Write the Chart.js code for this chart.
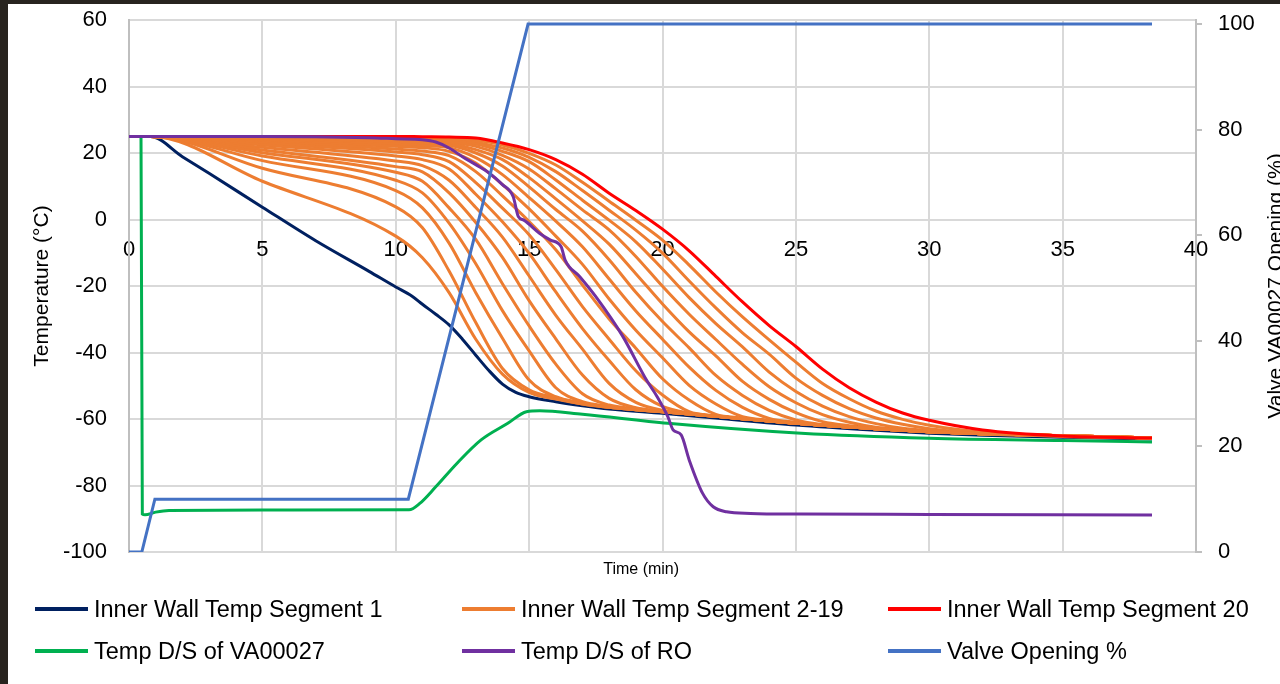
<!DOCTYPE html>
<html>
<head>
<meta charset="utf-8">
<script src="https://cdn.jsdelivr.net/npm/chart.js@4.4.1/dist/chart.umd.min.js"></script>
<style>
  html, body { margin: 0; padding: 0; background: #fff; overflow: hidden; }
  #wrap { position: relative; width: 1280px; height: 684px; overflow: hidden; background: #fff; }
  #box { position: absolute; left: 0; top: 0; width: 1292px; height: 684px; }
  .frame { position: absolute; background: #28241f; }
  #legend { position: absolute; left: 0; top: 0; font-family: 'Liberation Sans', Arial, sans-serif; font-size: 23.5px; color: #000; }
  .item { position: absolute; display: flex; align-items: center; white-space: nowrap; height: 30px; }
  .swatch { width: 53px; height: 4px; margin-right: 6px; }
</style>
</head>
<body>
<div id="wrap">
  <div id="box"><canvas id="chart" width="1292" height="684"></canvas></div>
  <div id="legend"></div>
  <div class="frame" style="left:0;top:0;width:8px;height:684px"></div>
  <div class="frame" style="left:0;top:0;width:1280px;height:4px"></div>
</div>
<script>
// time axis (min) shared by the wall segments 2-20
const orangeTime = [0, 0.8, 5, 10, 11, 12, 13, 14, 15, 16, 17, 18, 19, 20, 21, 22, 23, 24, 25, 26, 27, 28, 29, 30, 32, 35, 38.35];

const seg2  = [25, 25, 11.5, -5, -11.5, -22, -36, -46.5, -52.0, -54.0, -55.5, -56.5, -57.2, -57.8, -58.5, -59.2, -59.9, -60.6, -61.3, -61.9, -62.4, -62.9, -63.4, -63.8, -64.4, -65.0, -65.7];
const seg3  = [25, 25, 15.4, 3.8, -2.5, -15.5, -31, -44.8, -51.2, -53.6, -55.5, -56.5, -57.2, -57.8, -58.5, -59.2, -59.9, -60.6, -61.3, -61.9, -62.4, -62.9, -63.4, -63.8, -64.4, -65.0, -65.7];
const seg4  = [25, 25, 17.7, 8.7, 3.5, -7.1, -22, -35.7, -48.3, -53.3, -55.2, -56.5, -57.2, -57.8, -58.5, -59.2, -59.9, -60.6, -61.3, -61.9, -62.4, -62.9, -63.4, -63.8, -64.4, -65.0, -65.7];
const seg5  = [25, 25, 19.1, 11.8, 8, -1.1, -13.3, -27.4, -39.5, -50.6, -54.8, -56.2, -57.2, -57.8, -58.5, -59.2, -59.9, -60.6, -61.3, -61.9, -62.4, -62.9, -63.4, -63.8, -64.4, -65.0, -65.7];
const seg6  = [25, 25, 20.1, 14.2, 11.5, 3.5, -6, -19.3, -32, -43.5, -52.4, -55.8, -56.9, -57.8, -58.5, -59.2, -59.9, -60.6, -61.3, -61.9, -62.4, -62.9, -63.4, -63.8, -64.4, -65.0, -65.7];
const seg7  = [25, 25, 20.9, 15.9, 14.3, 8, -0.9, -11.4, -24.4, -35.9, -46.8, -53.8, -56.6, -57.6, -58.5, -59.2, -59.9, -60.6, -61.3, -61.9, -62.4, -62.9, -63.4, -63.8, -64.4, -65.0, -65.7];
const seg8  = [25, 25, 21.7, 17.6, 16.2, 11.8, 3.6, -5.3, -17, -28.8, -39, -49.3, -55, -57.4, -58.3, -59.2, -59.9, -60.6, -61.3, -61.9, -62.4, -62.9, -63.4, -63.8, -64.4, -65.0, -65.7];
const seg9  = [25, 25, 22.4, 19.1, 18, 15.2, 7.6, -0.7, -10.2, -21.8, -32.8, -42.4, -51.2, -56.2, -58.2, -59.1, -59.9, -60.6, -61.3, -61.9, -62.4, -62.9, -63.4, -63.8, -64.4, -65.0, -65.7];
const seg10 = [25, 25, 22.9, 20.3, 19.5, 17.4, 11.1, 3.4, -4.6, -15.1, -26.2, -36, -45.5, -52.8, -57.8, -59.1, -59.9, -60.6, -61.3, -61.9, -62.4, -62.9, -63.4, -63.8, -64.4, -65.0, -65.7];
const seg11 = [25, 25, 23.3, 21.2, 20.6, 19.2, 14.4, 7.1, -0.6, -9.1, -19.7, -29.9, -38.7, -47.9, -54.3, -58.6, -59.7, -60.6, -61.3, -61.9, -62.4, -62.9, -63.4, -63.8, -64.4, -65.0, -65.7];
const seg12 = [25, 25, 23.6, 22, 21.6, 20.5, 17, 10.5, 3.2, -5, -13.5, -23.9, -33.3, -41.6, -49.9, -55.5, -59.3, -60.4, -61.3, -61.9, -62.4, -62.9, -63.4, -63.8, -64.4, -65.0, -65.7];
const seg13 = [25, 25, 23.9, 22.6, 22.2, 21.6, 18.6, 13.5, 6.6, -0.5, -8.2, -17.9, -27.5, -36, -44.4, -51.4, -56.5, -59.8, -61.0, -61.8, -62.4, -62.9, -63.4, -63.8, -64.4, -65.0, -65.7];
const seg14 = [25, 25, 24.1, 23.1, 22.8, 22.3, 20, 16.1, 9.8, 3, -3.5, -12.1, -21.9, -30.7, -38.6, -46.9, -52.9, -57.4, -60.3, -61.7, -62.3, -62.9, -63.4, -63.8, -64.4, -65.0, -65.7];
const seg15 = [25, 25, 24.3, 23.5, 23.2, 22.8, 21, 18, 12.6, 6.2, -0.4, -7.4, -16.3, -25.4, -33.8, -41, -48.7, -54.1, -58.1, -60.8, -62.0, -62.6, -63.4, -63.8, -64.4, -65.0, -65.7];
const seg16 = [25, 25, 24.5, 23.9, 23.7, 23.3, 22, 19.3, 15.2, 9.2, 2.9, -3.1, -11.1, -20.1, -28.5, -36.1, -43.6, -50.3, -55.1, -58.7, -61.0, -62.5, -63.2, -63.8, -64.4, -65.0, -65.7];
const seg17 = [25, 25, 24.6, 24.2, 24.0, 23.7, 22.7, 20.5, 17.4, 11.9, 5.8, -0.2, -6.7, -14.9, -23.5, -31.3, -38.3, -45.9, -51.7, -56.1, -59.3, -61.4, -62.8, -63.5, -64.4, -65.0, -65.7];
const seg18 = [25, 25, 24.8, 24.5, 24.3, 24.1, 23.2, 21.5, 18.7, 14.4, 8.7, 2.8, -3.2, -10.1, -18.5, -26.6, -34.1, -40.5, -47.7, -52.9, -56.9, -59.7, -61.6, -62.9, -64.4, -65.0, -65.7];
const seg19 = [25, 25, 24.85, 24.7, 24.6, 24.4, 23.8, 22.4, 19.9, 16.4, 11.2, 5.5, -0.2, -6.2, -13.7, -21.8, -29.3, -36.2, -42.9, -49.3, -53.9, -57.6, -60.1, -61.9, -64.0, -65.3, -65.7];
const seg20 = [25, 25, 25, 25, 24.9, 24.8, 24.5, 23.0, 21.0, 18.0, 13.6, 7.9, 2.7, -2.9, -9.4, -17.1, -24.8, -31.9, -38.2, -45, -50.6, -54.9, -58.2, -60.4, -63.3, -65.1, -65.7];

const middleSegments = [seg2, seg3, seg4, seg5, seg6, seg7, seg8, seg9, seg10, seg11, seg12, seg13, seg14, seg15, seg16, seg17, seg18, seg19];

// segment 1
const seg1Time = [0, 0.8, 2, 3, 5, 7, 9, 10, 10.6, 11, 11.5, 12, 12.5, 13, 13.5, 14, 14.5, 15, 16, 17, 18, 20, 22, 25, 28, 30, 32, 35, 38.35];
const seg1 = [25, 25, 18.9, 13.9, 3.7, -6.4, -15.6, -20.3, -23, -25.5, -28.5, -31.7, -36, -40.8, -45.5, -49.5, -52, -53.3, -54.8, -56, -57, -58.3, -59.7, -61.8, -63.4, -64.3, -64.9, -65.5, -66];

// temp downstream of VA00027
const vaTime = [0, 0.45, 0.5, 0.6, 1.0, 1.5, 5, 10.5, 10.9, 11.5, 12.3, 13.2, 14.2, 14.9, 15.4, 17, 20.2, 25.2, 30, 35, 38.35];
const vaTemp = [25, 25, -88.6, -88.8, -88, -87.5, -87.4, -87.3, -85.4, -80.4, -73.3, -66.3, -61.3, -57.8, -57.5, -58.6, -61.3, -64.3, -65.8, -66.5, -66.9];

// temp downstream of RO
const roTime = [0, 5, 9, 10, 11, 11.5, 12, 12.5, 13, 13.5, 14, 14.4, 14.6, 14.8, 15.4, 15.8, 16.2, 16.35, 16.9, 17.5, 18.5, 19.4, 19.8, 20.2, 20.4, 20.7, 21.0, 21.5, 21.9, 22.4, 23.3, 25.2, 30, 38.35];
const roTemp = [25, 25, 24.6, 24.3, 24, 23.3, 21.5, 18.9, 16.5, 14, 10.5, 6.9, 0.8, -0.2, -4.2, -6.2, -8.2, -12.2, -17.2, -23.2, -35, -48.3, -53.3, -59.3, -63.3, -64.8, -72.3, -82.3, -86.4, -87.9, -88.4, -88.6, -88.7, -88.9];

// valve opening (%)
const valveTime = [0, 0.48, 0.97, 10.47, 14.96, 38.35];
const valveOpen = [0, 0, 10, 10, 100, 100];

const tempTicks = [-100, -80, -60, -40, -20, 0, 20, 40, 60];
const valveTicks = [0, 20, 40, 60, 80, 100];
const timeTicks = [0, 5, 10, 15, 20, 25, 30, 35, 40];

const legendItems = [
  ['Inner Wall Temp Segment 1', '#002060'],
  ['Inner Wall Temp Segment 2-19', '#ED7D31'],
  ['Inner Wall Temp Segment 20', '#FF0000'],
  ['Temp D/S of VA00027', '#00B050'],
  ['Temp D/S of RO', '#7030A0'],
  ['Valve Opening %', '#4472C4']
];

const FONT = "'Liberation Sans', Arial, sans-serif";
Chart.defaults.font.family = FONT;
Chart.defaults.color = '#000';

function pts(xs, ys) {
  return xs.map((x, i) => ({x: x, y: ys[i]}));
}

function line(label, data, color, order, extra) {
  return Object.assign({
    label: label,
    data: data,
    borderColor: color,
    backgroundColor: color,
    borderWidth: 3,
    pointRadius: 0,
    fill: false,
    cubicInterpolationMode: 'monotone',
    xAxisID: 'x',
    yAxisID: 'y',
    order: order
  }, extra || {});
}

const datasets = [];
datasets.push(line('Inner Wall Temp Segment 1', pts(seg1Time, seg1), '#002060', 6));
middleSegments.forEach((s, i) => {
  datasets.push(line('Inner Wall Temp Segment ' + (i + 2), pts(orangeTime, s), '#ED7D31', 5));
});
datasets.push(line('Inner Wall Temp Segment 20', pts(orangeTime, seg20), '#FF0000', 4));
datasets.push(line('Temp D/S of VA00027', pts(vaTime, vaTemp), '#00B050', 3));
datasets.push(line('Temp D/S of RO', pts(roTime, roTemp), '#7030A0', 2));
datasets.push(line('Valve Opening %', pts(valveTime, valveOpen), '#4472C4', 1,
  {yAxisID: 'y2', cubicInterpolationMode: 'default', tension: 0}));

const extraTitles = {
  id: 'extraTitles',
  afterDraw(chart) {
    const {ctx, chartArea} = chart;
    ctx.save();
    ctx.fillStyle = '#000';
    ctx.textAlign = 'center';
    ctx.textBaseline = 'middle';
    ctx.font = '16px ' + FONT;
    ctx.fillText('Time (min)', chartArea.left + (chartArea.right - chartArea.left) * 0.48, chartArea.bottom + 18);
    ctx.font = '21px ' + FONT;
    ctx.translate(chartArea.right + 80, (chartArea.top + chartArea.bottom) / 2);
    ctx.rotate(-Math.PI / 2);
    ctx.fillText('Valve VA00027 Opening (%)', 0, 0);
    ctx.restore();
  }
};

function fixSide(width) {
  return s => { s.width = width; s.paddingTop = 0; s.paddingBottom = 0; };
}

new Chart(document.getElementById('chart'), {
  type: 'line',
  data: {datasets: datasets},
  plugins: [extraTitles],
  options: {
    responsive: false,
    animation: false,
    layout: {padding: {top: 20, bottom: 100, left: 0, right: 0}},
    plugins: {legend: {display: false}, tooltip: {enabled: false}},
    scales: {
      x: {
        type: 'linear', position: 'bottom', min: 0, max: 40,
        afterBuildTicks: s => { s.ticks = timeTicks.map(v => ({value: v})); },
        ticks: {display: false},
        grid: {color: '#d9d9d9', lineWidth: 2, drawTicks: false},
        border: {display: false},
        afterFit: s => { s.height = 32; }
      },
      x2: {
        type: 'linear', axis: 'x', position: {y: 0}, min: 0, max: 40,
        afterBuildTicks: s => { s.ticks = timeTicks.map(v => ({value: v})); },
        ticks: {font: {size: 22}, color: '#000', padding: 17, maxRotation: 0, autoSkip: false},
        grid: {display: false, drawTicks: false},
        border: {display: false},
        afterFit: s => { s.paddingLeft = 0; s.paddingRight = 0; }
      },
      y: {
        type: 'linear', position: 'left', min: -100, max: 60,
        afterBuildTicks: s => { s.ticks = tempTicks.map(v => ({value: v})); },
        ticks: {font: {size: 22}, color: '#000', padding: 22},
        grid: {color: '#d9d9d9', lineWidth: 2, drawTicks: false},
        border: {display: true, color: '#bfbfbf', width: 2},
        title: {display: true, text: 'Temperature (°C)', font: {size: 21}, color: '#000', padding: {top: 30, bottom: 0}},
        afterFit: fixSide(129)
      },
      y2: {
        type: 'linear', position: 'right', min: 0, max: 100.76,
        afterBuildTicks: s => { s.ticks = valveTicks.map(v => ({value: v})); },
        ticks: {font: {size: 22}, color: '#000', padding: 16},
        grid: {drawOnChartArea: false, drawTicks: true, tickLength: 6, color: '#bfbfbf', lineWidth: 2},
        border: {display: true, color: '#bfbfbf', width: 2},
        afterFit: fixSide(96)
      }
    }
  }
});

// legend: 3 columns x 2 rows
const legendBox = document.getElementById('legend');
const colX = [35, 462, 888];
const rowY = [609, 651];
legendItems.forEach((it, i) => {
  const d = document.createElement('div');
  d.className = 'item';
  d.style.left = colX[i % 3] + 'px';
  d.style.top = (rowY[Math.floor(i / 3)] - 15) + 'px';
  const sw = document.createElement('span');
  sw.className = 'swatch';
  sw.style.background = it[1];
  const tx = document.createElement('span');
  tx.textContent = it[0];
  d.appendChild(sw);
  d.appendChild(tx);
  legendBox.appendChild(d);
});
</script>
</body>
</html>
